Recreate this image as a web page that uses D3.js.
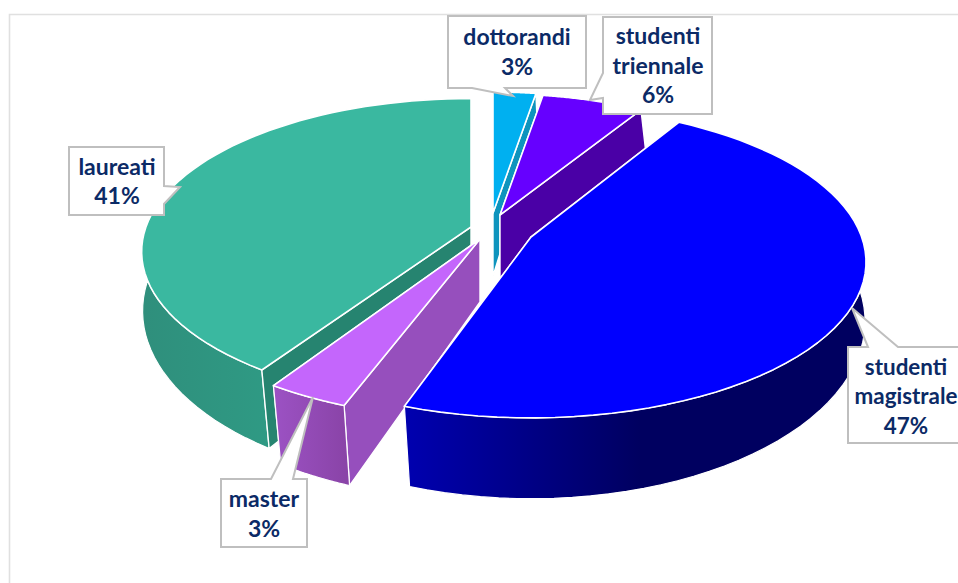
<!DOCTYPE html>
<html><head><meta charset="utf-8">
<script src="https://cdnjs.cloudflare.com/ajax/libs/d3/7.8.5/d3.min.js"></script>
<style>html,body{margin:0;padding:0;background:#fff;overflow:hidden}svg{display:block}</style>
</head><body><svg id="c" width="958" height="583"></svg>
<script>
const categories = ["dottorandi","studenti triennale","studenti magistrale","master","laureati"];
const values = [2.6,5.9,46.9,3.4,41.2];

// layout and styling
const apex = [[493,213],[500,215],[531,237],[480,239],[471,227]];
const shrink = [.93,.93,1.005,1,.988];
const nudgeDeg = [[0,0],[0,1],[0,-.5],[1.1,1.2],[2.2,0]];
const topColors = ["#00b0f0","#6600ff","#0000ff","#c466fc","#3ab8a0"];
const cutColors = ["#0e94bd","#4a00a6","#00006a","#964fbd","#268470"];
const rimStops = [["#0e94bd","#0e94bd"],["#4a00a6","#4a00a6"],["#0000b0","#000060"],["#9c52c4","#8a44a8"],["#2f8f7c","#2f9a84"]];
const rimRange = [[490,540],[540,650],[404,640],[273,345],[143,270]];
const boxes = [
 {x:448,y:16,w:138,h:72,cx:517,fs:23,base:[45,75],wedge:[[505,88],[513,96],[472,88]]},
 {x:603,y:17,w:109,h:97,cx:658,fs:23,base:[44,74,103],wedge:[[603,98],[590,100],[603,73]]},
 {x:848,y:347,w:125,h:96,cx:906,fs:22.4,base:[375,404,434],wedge:[[868,347],[852,308],[898,347]]},
 {x:221,y:479,w:86,h:68,cx:264,fs:23,base:[507,537],wedge:[[271,479],[313,397],[293,479]]},
 {x:69,y:147,w:95,h:68,cx:117,fs:23,base:[175,204],wedge:[[164,186],[180,187],[164,204]]}
];
const K = {R:329, RK:151, p:.161, R2:330, RK2:174, p2:.12, depth:63};

const svg = d3.select("#c");
const defs = svg.append("defs");
const xUnit = d3.scaleLinear().domain([-1,1]).range([-1,1]);

const pie = d3.pie().sort(null).value(d=>d);
const arcs = pie(values);
const rad = d3.scaleLinear().domain([0,180]).range([0,Math.PI]);

function topPt(i,th){
  const u=Math.sin(th), v=-Math.cos(th), s=1/(1-K.p*v), q=shrink[i];
  return [apex[i][0]+xUnit(u)*K.R*s*q, apex[i][1]+v*K.RK*s*q];
}
function lowPt(i,th){
  const u=Math.sin(th), v=-Math.cos(th), s=1/(1-K.p2*v), q=shrink[i];
  return [apex[i][0]+xUnit(u)*K.R2*s*q, apex[i][1]+K.depth+v*K.RK2*s*q];
}
const line = d3.line();
const close = pts => line(pts)+"Z";

svg.append("path").attr("d","M9.5,583V14.5H958").attr("fill","none").attr("stroke","#e0e0e0").attr("stroke-width",1.6);

const order = [0,1,4,3,2];
order.forEach(i=>{
  const a=arcs[i];
  const a0=a.startAngle+rad(nudgeDeg[i][0]), a1=a.endAngle+rad(nudgeDeg[i][1]);
  const ths=d3.range(0,61).map(k=>a0+(a1-a0)*k/60);
  const upper=ths.map(t=>topPt(i,t)), lower=ths.map(t=>lowPt(i,t));
  const ap=apex[i], apL=[ap[0],ap[1]+K.depth];
  const g=svg.append("g");
  const wall=(pts,fill)=>g.append("path").attr("d",close(pts)).attr("fill",fill).attr("stroke","#fff").attr("stroke-width",1.4).attr("stroke-linejoin","round");
  const e0=ths[0], e1=ths[60];
  const frontLast = (-Math.cos(e0)) > (-Math.cos(e1)) ? [e1,e0] : [e0,e1];
  const gid="rim"+i;
  const lg=defs.append("linearGradient").attr("id",gid).attr("gradientUnits","userSpaceOnUse")
    .attr("x1",rimRange[i][0]).attr("x2",rimRange[i][1]).attr("y1",0).attr("y2",0);
  lg.append("stop").attr("offset",0).attr("stop-color",rimStops[i][0]);
  lg.append("stop").attr("offset",1).attr("stop-color",rimStops[i][1]);
  const rim=()=>g.append("path").attr("d",close(upper.concat(lower.slice().reverse()))).attr("fill",`url(#${gid})`).attr("stroke","#fff").attr("stroke-width",1.2);
  const cuts=()=>frontLast.forEach(e=>wall([ap,topPt(i,e),lowPt(i,e),apL],cutColors[i]));
  // slices lying wholly behind the centre show their cut faces over the rim
  if(Math.cos((a0+a1)/2)>0){ rim(); cuts(); } else { cuts(); rim(); }
  g.append("path").attr("d",close([ap].concat(upper))).attr("fill",topColors[i]).attr("stroke","#fff").attr("stroke-width",1.6).attr("stroke-linejoin","round");
});

categories.forEach((c,i)=>{
  const b=boxes[i], pct=Math.round(values[i])+"%";
  const r=[[b.x,b.y],[b.x+b.w,b.y],[b.x+b.w,b.y+b.h],[b.x,b.y+b.h]];
  let outline;
  if(i===0) outline=[r[0],r[1],r[2],...b.wedge,r[3]];
  else if(i===1) outline=[r[0],r[1],r[2],r[3],...b.wedge];
  else if(i===4) outline=[r[0],r[1],...b.wedge,r[2],r[3]];
  else outline=[r[0],...b.wedge,r[1],r[2],r[3]];
  svg.append("path").attr("d",close(outline)).attr("fill","#fff").attr("stroke","#bfbfbf").attr("stroke-width",2);
  const lines=c.split(" ").concat([pct]);
  lines.forEach((t,j)=>svg.append("text").attr("x",b.cx).attr("y",b.base[j]).attr("text-anchor","middle")
    .attr("font-family","Lato, sans-serif").attr("font-weight",700).attr("font-size",b.fs).attr("fill","#0b2a66").text(t));
});
</script></body></html>
